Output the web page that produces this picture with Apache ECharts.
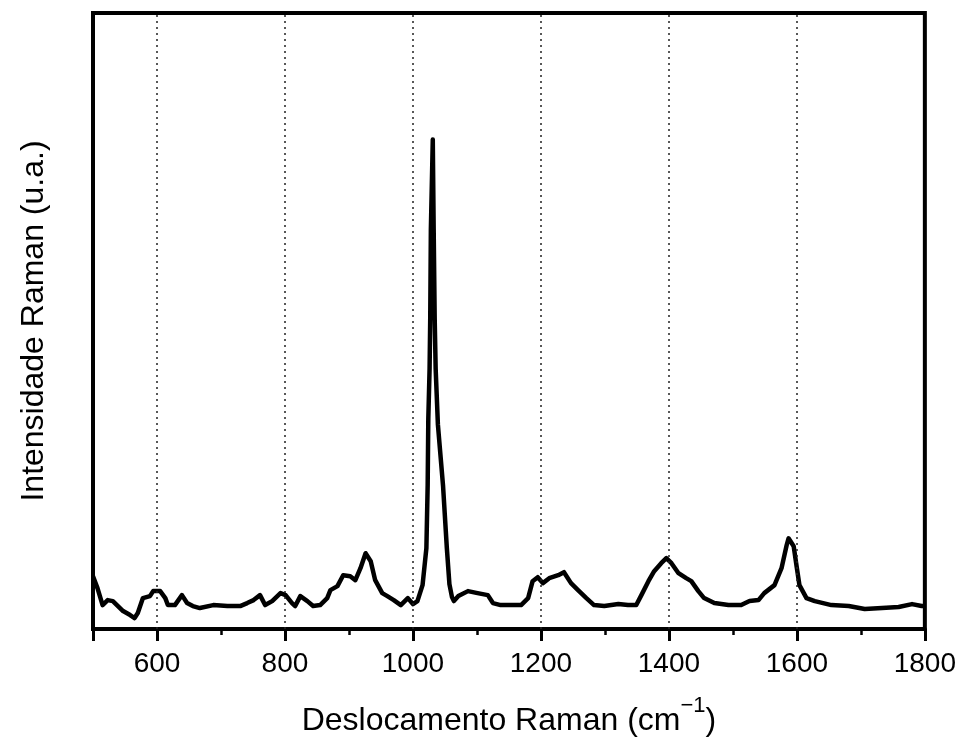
<!DOCTYPE html>
<html><head><meta charset="utf-8">
<script src="https://cdn.jsdelivr.net/npm/echarts@6/dist/echarts.min.js"></script>
<style>html,body{margin:0;padding:0;background:#fff}#c{width:959px;height:742px}</style>
</head><body><div id="c"></div>
<script>
const ramanShift = [500,507,515,523,531,539,547,558,565,570,578,589,594,605,613,617,628,639,647,656,667,688,710,730,741,751,761,769,780,793,801,811,816,824,835,844,855,866,871,882,891,902,910,918,926,934,941,952,960,970,981,992,1000,1007,1015,1021,1023,1024,1026,1027,1028,1031,1032.4,1034,1035.5,1039,1047,1053,1057,1061,1064,1071,1086,1101,1117,1125,1137,1153,1169,1180,1187,1195,1203,1213,1227,1236,1247,1258,1271,1283,1299,1321,1336,1349,1357,1368,1377,1388,1396,1404,1415,1427,1435,1446,1455,1471,1493,1513,1526,1540,1549,1565,1576,1584,1587,1595,1600,1604,1615,1628,1654,1681,1706,1733,1759,1780,1795,1800];
const intensity = [53,41,24,29,28,23,18,14,11,16,31,33,38,38,31,24,24,34,26,23,21,24,23,23,26,29,34,24,28,36,34,26,23,33,28,23,24,31,39,43,54,53,49,61,76,68,49,36,33,29,24,31,25,28,44,81,144,211,261,311,401,491,401,311,261,205,144,81,45,32,28,33,38,36,34,26,24,24,24,31,48,52,46,51,54,57,46,39,31,24,23,25,24,24,34,48,58,66,71,66,56,51,48,38,31,26,24,24,28,29,36,44,61,84,91,83,61,44,31,28,24,23,20,21,22,25,23,23];
const majorTicks = [500,600,800,1000,1200,1400,1600,1800];
const tickLabels = [600,800,1000,1200,1400,1600,1800];
const gridLines = [600,800,1000,1200,1400,1600];

const data = ramanShift.map((x,i)=>[x,intensity[i]]);
const font = '"Liberation Sans", Arial, sans-serif';
const chart = echarts.init(document.getElementById('c'), null, {renderer:'canvas'});
chart.setOption({
  animation:false,
  grid:{left:93,right:34,top:13,bottom:111,show:true,borderColor:'#000',borderWidth:4,backgroundColor:'transparent'},
  xAxis:[{
    type:'value',min:500,max:1800,interval:100,position:'bottom',
    axisLine:{show:true,lineStyle:{color:'#000',width:4}},
    axisTick:{show:true,length:12,customValues:majorTicks,lineStyle:{color:'#000',width:3}},
    axisLabel:{show:true,customValues:tickLabels,margin:21,fontSize:28,color:'#000',fontFamily:font,formatter:v=>String(v)},
    splitLine:{show:false},
    name:'{a|Deslocamento Raman (cm}{s|−1}{a|)}',
    nameLocation:'middle',nameGap:66,
    nameTextStyle:{rich:{
      a:{fontSize:32,fontFamily:font,color:'#000',lineHeight:42,verticalAlign:'bottom'},
      s:{fontSize:22,fontFamily:font,color:'#000',lineHeight:42,verticalAlign:'top'}
    }}
  },{
    type:'value',min:500,max:1800,interval:100,position:'bottom',offset:0,
    axisLine:{show:false},
    axisTick:{show:true,length:6,lineStyle:{color:'#000',width:2.5}},
    axisLabel:{show:false},splitLine:{show:false}
  }],
  yAxis:{
    type:'value',min:0,max:618,
    axisLine:{show:true,lineStyle:{color:'#000',width:4}},
    axisTick:{show:false},axisLabel:{show:false},splitLine:{show:false},
    name:'Intensidade Raman (u.a.)',nameLocation:'middle',nameGap:43,
    nameTextStyle:{fontSize:32,fontFamily:font,color:'#000'}
  },
  series:[{
    type:'line',xAxisIndex:0,data:data,showSymbol:false,symbol:'none',
    lineStyle:{color:'#000',width:4.5,join:'round'},
    markLine:{
      silent:true,symbol:['none','none'],label:{show:false},
      lineStyle:{color:'#222',width:1.5,type:[2,4]},
      data:gridLines.map(v=>({xAxis:v}))
    },
    z:3
  }]
});
</script></body></html>
